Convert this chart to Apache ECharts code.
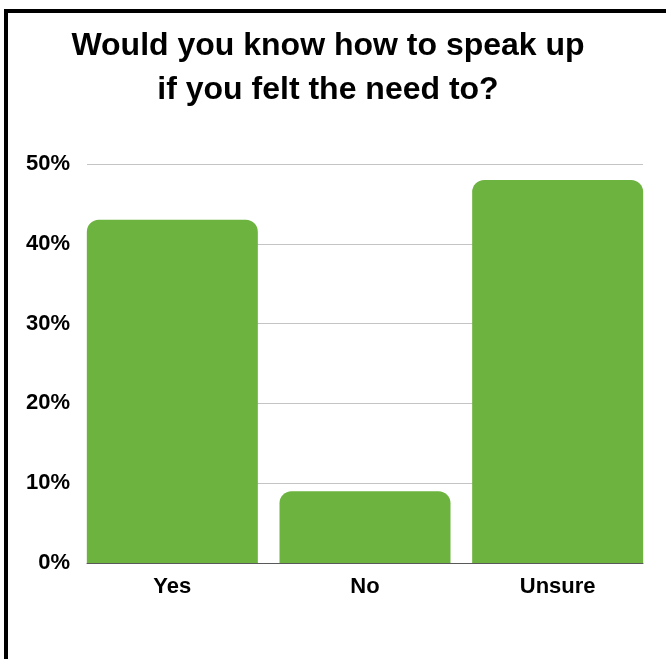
<!DOCTYPE html>
<html>
<head>
<meta charset="utf-8">
<script src="https://cdn.jsdelivr.net/npm/echarts@6/dist/echarts.min.js"></script>
<style>
  html, body { margin: 0; padding: 0; background: #fff; }
  #chart { width: 666px; height: 659px; }
</style>
</head>
<body>
<div id="chart"></div>
<script>
  // data
  const categories = ['Yes', 'No', 'Unsure'];
  const percents = [43, 9, 48];
  const yTicks = [0, 10, 20, 30, 40, 50];

  const font = 'Liberation Sans, Arial, sans-serif';
  const green = '#6db33f';

  let myChart = echarts.init(document.getElementById('chart'));
  myChart.setOption({
    animation: false,
    title: {
      text: 'Would you know how to speak up\nif you felt the need to?',
      left: 323,            // with textAlign center this is (roughly) the centre line
      top: 19,
      textAlign: 'center',
      textStyle: {
        fontFamily: font,
        fontSize: 32,
        fontWeight: 'bold',
        lineHeight: 44,
        color: '#000'
      }
    },
    graphic: [
      // frame: left and top edges only
      { type: 'rect', shape: { x: 4, y: 9, width: 4, height: 660 }, style: { fill: '#000' } },
      { type: 'rect', shape: { x: 4, y: 9, width: 670, height: 4 }, style: { fill: '#000' } }
    ],
    grid: [
      { left: 87, right: 23, top: 164, bottom: 96 },   // gridlines + y labels
      { left: 76, right: 12, top: 164, bottom: 96 }    // bars + category labels
    ],
    xAxis: [
      {
        gridIndex: 0,
        type: 'category',
        data: categories,
        axisLabel: { show: false },
        axisTick: { show: false },
        axisLine: { show: true, lineStyle: { color: '#595959', width: 1 } }
      },
      {
        gridIndex: 1,
        type: 'category',
        data: categories,
        axisTick: { show: false },
        axisLine: { show: false },
        axisLabel: {
          margin: 13,
          fontFamily: font,
          fontSize: 22,
          fontWeight: 'bold',
          color: '#000'
        }
      }
    ],
    yAxis: [
      {
        gridIndex: 0,
        type: 'value',
        min: yTicks[0],
        max: yTicks[yTicks.length - 1],
        interval: 10,
        axisLine: { show: false },
        axisTick: { show: false },
        splitLine: { lineStyle: { color: '#c4c4c4', width: 1 } },
        axisLabel: {
          margin: 17,
          formatter: '{value}%',
          fontFamily: font,
          fontSize: 22,
          fontWeight: 'bold',
          color: '#000'
        }
      },
      {
        gridIndex: 1,
        type: 'value',
        min: yTicks[0],
        max: yTicks[yTicks.length - 1],
        show: false
      }
    ],
    series: [{
      type: 'bar',
      xAxisIndex: 1,
      yAxisIndex: 1,
      data: percents,
      barWidth: 171,
      itemStyle: {
        color: green,
        borderRadius: [12, 12, 0, 0]
      }
    }]
  });
</script>
</body>
</html>
